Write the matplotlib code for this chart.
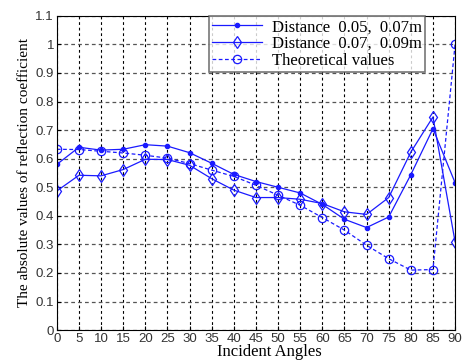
import numpy as np
import matplotlib
matplotlib.use("Agg")
import matplotlib.pyplot as plt

# Data
angles = [0, 5, 10, 15, 20, 25, 30, 35, 40, 45, 50, 55, 60, 65, 70, 75, 80, 85, 90]
dist_005_007 = [0.58, 0.64, 0.63, 0.633, 0.649, 0.644, 0.621, 0.584, 0.545, 0.52,
                0.50, 0.48, 0.44, 0.388, 0.359, 0.396, 0.544, 0.705, 0.516]
dist_007_009 = [0.487, 0.542, 0.54, 0.562, 0.598, 0.597, 0.577, 0.53, 0.49, 0.464,
                0.464, 0.458, 0.443, 0.414, 0.405, 0.464, 0.623, 0.746, 0.309]
theoretical = [0.633, 0.632, 0.626, 0.62, 0.612, 0.602, 0.583, 0.56, 0.538, 0.507,
               0.472, 0.437, 0.394, 0.35, 0.297, 0.25, 0.21, 0.212, 1.0]

labels = ["Distance  0.05,  0.07m", "Distance  0.07,  0.09m", "Theoretical values"]

serif = ["Liberation Serif", "DejaVu Serif"]
sans = ["Liberation Sans", "DejaVu Sans"]

fig = plt.figure(figsize=(4.62, 3.6), dpi=100)
ax = fig.add_axes([0.123, 0.083, 0.862, 0.873])

blue = (0.1, 0.1, 1.0)
ax.plot(angles, dist_005_007, color=blue, lw=0.9, marker=".", ms=6,
        label=labels[0])
ax.plot(angles, dist_007_009, color=blue, lw=0.9, marker="d", ms=6,
        mfc="none", mew=0.9, label=labels[1])
ax.plot(angles, theoretical, color=blue, lw=0.9, ls=(0, (3, 2)), marker="o", ms=6,
        mfc="none", mew=0.9, label=labels[2])

ax.set_xlim(0, 90)
ax.set_ylim(0, 1.1)
ax.set_xticks(np.arange(0, 91, 5))
ax.set_yticks(np.round(np.arange(0, 1.11, 0.1), 1))
ax.set_yticklabels(["0", "0.1", "0.2", "0.3", "0.4", "0.5", "0.6", "0.7", "0.8",
                    "0.9", "1", "1.1"])
ax.tick_params(direction="in", length=3, labelsize=9.5, pad=2)
for t in ax.get_xticklabels() + ax.get_yticklabels():
    t.set_family(sans)
    t.set_color("#333333")

ax.xaxis.grid(True, color="black", ls=(0, (2.5, 2.5)), lw=0.8)
ax.yaxis.grid(True, color="#555555", ls=(0, (3, 2.5)), lw=0.9)

for s in ax.spines.values():
    s.set_linewidth(0.8)

ax.set_xlabel("Incident Angles", family=serif, fontsize=12)
ax.xaxis.set_label_coords(0.534, -0.045)
ax.set_ylabel("The absolute values of reflection coefficient", family=serif,
              fontsize=11, labelpad=3)

leg = ax.legend(loc="upper right", bbox_to_anchor=(0.925, 1.0), frameon=True,
                fancybox=False, shadow=False, borderpad=0.2, labelspacing=0.05,
                handlelength=3.0, handletextpad=0.6, borderaxespad=0,
                prop={"family": serif, "size": 12})
leg.get_frame().set_edgecolor("#555555")
leg.get_frame().set_linewidth(1.2)

fig.savefig("out.png", dpi=100)
